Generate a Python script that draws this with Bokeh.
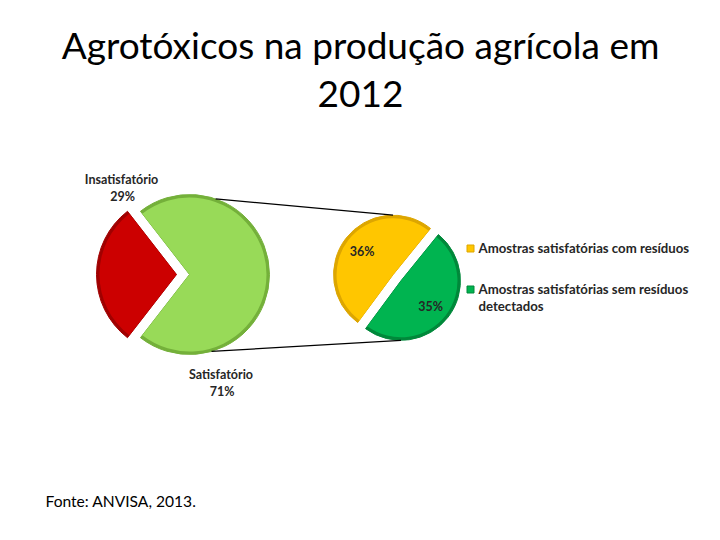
import math
from bokeh.plotting import figure
from bokeh.models import Range1d
from bokeh.embed import file_html
from bokeh.resources import INLINE
from bokeh.core.properties import value

# ---------------- data ----------------
title_lines = ["Agrotóxicos na produção agrícola em", "2012"]
main_labels = ["Insatisfatório", "Satisfatório"]
main_values = [29, 71]
sub_labels = ["Amostras satisfatórias com resíduos", "Amostras satisfatórias sem resíduos"]
sub_label_extra = ["", "detectados"]
sub_values = [36, 35]
source_note = "Fonte: ANVISA, 2013."

# ---------------- styles ----------------
main_colors = [("#A00000", "#CC0000"), ("#74B03A", "#98DA58")]
sub_colors = [("#DDA600", "#FFC600"), ("#00883A", "#00B450")]
TXT = "#262626"
FONT = "Lato"

W, H = 704, 524
p = figure(width=W, height=H, output_backend="svg", toolbar_location=None,
           x_range=Range1d(0, W), y_range=Range1d(540 - H, 540),
           min_border=0, outline_line_color=None)
p.axis.visible = False
p.grid.visible = False
p.background_fill_color = "white"
p.border_fill_color = "white"


def Y(py):  # reference pixel row -> data y
    return 540 - py


def shaded_wedge(cx, cy, r, a0, a1, cols):
    dark, mid = cols
    p.wedge(x=[cx], y=[cy], radius=r, start_angle=a0, end_angle=a1,
            fill_color=dark, line_color=dark, line_width=1)
    p.wedge(x=[cx], y=[cy], radius=r - 3, start_angle=a0, end_angle=a1,
            fill_color=mid, line_color=None)


# ---------------- main pie ----------------
R1 = 80
cx1, cy1 = 189, Y(274)
tot = sum(main_values)
half_red = math.pi * main_values[0] / tot          # half-angle of red slice
red_a0, red_a1 = math.pi - half_red, math.pi + half_red
explode = 13
shaded_wedge(cx1 - explode, cy1, R1, red_a0, red_a1, main_colors[0])
shaded_wedge(cx1, cy1, R1, red_a1, red_a0 + 2 * math.pi, main_colors[1])

# ---------------- second pie ----------------
R2 = 59.5
cx2, cy2 = 396.5, Y(277.25)
split = math.radians(51)
sub_tot = sum(sub_values)
angles = [split]
for v in sub_values:
    angles.append(angles[-1] + 2 * math.pi * v / sub_tot)
centers2 = []
for i in range(2):
    mid_a = (angles[i] + angles[i + 1]) / 2
    ox, oy = 5 * math.cos(mid_a), 5 * math.sin(mid_a)
    centers2.append((cx2 + ox, cy2 + oy))
    shaded_wedge(cx2 + ox, cy2 + oy, R2, angles[i], angles[i + 1], sub_colors[i])

# connector lines
ta, ba = math.radians(71), math.radians(-74)
p.line([cx1 + R1 * math.cos(ta), centers2[0][0]], [cy1 + R1 * math.sin(ta), centers2[0][1] + R2],
       line_color="black", line_width=1.2)
p.line([cx1 + R1 * math.cos(ba), centers2[1][0]], [cy1 + R1 * math.sin(ba), centers2[1][1] - R2],
       line_color="black", line_width=1.2)

# ---------------- texts ----------------
bold = dict(text_font=value(FONT), text_font_style="bold", text_color=TXT,
            text_font_size="12.5px", text_align="center", text_baseline="middle")
p.text(x=[121, 122], y=[Y(178.5), Y(195.5)], text=[main_labels[0], f"{main_values[0]}%"], **bold)
p.text(x=[220.5, 221.5], y=[Y(373.5), Y(390.5)], text=[main_labels[1], f"{main_values[1]}%"], **bold)
p.text(x=[361.5, 430], y=[Y(250.5), Y(305.5)], text=[f"{v}%" for v in sub_values], **bold)

# legend
p.rect(x=[470, 470], y=[Y(248), Y(289)], width=7, height=7,
       fill_color=[sub_colors[0][1], sub_colors[1][1]],
       line_color=[sub_colors[0][0], sub_colors[1][0]], line_width=1)
leg = dict(bold)
leg.update(text_align="left", text_font_size="13.2px")
p.text(x=[478, 478, 478], y=[Y(247.5), Y(288.5), Y(305)],
       text=[sub_labels[0], sub_labels[1], sub_label_extra[1]], **leg)

# title
p.text(x=[360, 360], y=[Y(44), Y(93)], text=title_lines,
       text_font=value(FONT), text_font_size="37px", text_color="black",
       text_align="center", text_baseline="middle")

# source
p.text(x=[45], y=[Y(500)], text=[source_note], text_font=value(FONT),
       text_font_size="15.6px", text_color="black", text_align="left",
       text_baseline="middle")

open("out.html", "w").write(file_html(p, INLINE))
